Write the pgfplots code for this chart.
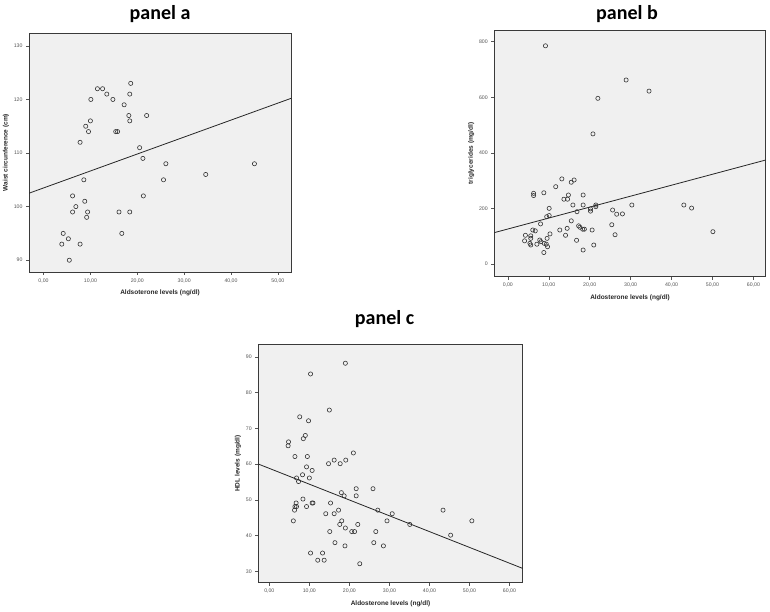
\documentclass[border=0pt]{standalone}
\usepackage{fontspec}
\setmainfont{Liberation Sans}
\newfontfamily\titlefont{Carlito}
\usepackage{pgfplots}
\pgfplotsset{compat=1.18}
\definecolor{panelbg}{HTML}{F0F0F0}
\definecolor{framec}{HTML}{3A3A3A}
\definecolor{tickc}{HTML}{555555}

\pgfplotsset{
  spss/.style={
    scale only axis,
    anchor=south west,
    axis background/.style={fill=panelbg},
    axis line style={draw=framec, line width=0.9pt},
    tick align=outside,
    xtick pos=left, ytick pos=left,
    major tick length=3pt,
    tick style={draw=tickc, line width=0.5pt},
    /pgf/number format/assume math mode=true,
    ticklabel style={font=\fontsize{5.2}{6}\selectfont, text=tickc},
    xticklabel style={/pgf/number format/.cd, fixed, fixed zerofill, precision=2, use comma},
    label style={font=\fontsize{6.5}{7.5}\selectfont\bfseries, text=black!85},
    ylabel shift=-2pt,
    title style={font=\fontsize{20}{24}\selectfont\titlefont\bfseries, at={(0.5,1)}, anchor=center},
  },
  pts/.style={only marks, mark=o, mark size=2.1pt, draw=black!80, line width=0.6pt},
  fit/.style={no marks, draw=black!85, line width=0.8pt, sharp plot},
}

\begin{document}
\begin{tikzpicture}
\path[use as bounding box] (0pt,0pt) rectangle (770pt,612pt);

% panel a
\begin{axis}[spss, at={(29pt,340pt)}, width=262pt, height=239pt,
  xmin=-3.1, xmax=52.8, ymin=87.8, ymax=132.4,
  xtick={0,10,...,50}, ytick={90,100,...,130},
  title={panel a}, title style={yshift=13pt},
  xlabel={Aldsoterone levels (ng/dl)},
  ylabel={Waist circunference (cm)}]
\addplot[pts] table {
3.9 93
4.2 95
5.3 94
5.5 90
6.2 102
6.2 99
6.9 100
7.8 93
7.8 112
8.6 105
8.8 101
9.0 115
9.2 98
9.4 99
9.6 114
10.0 116
10.1 120
11.5 122
12.6 122
13.5 121
14.8 120
15.4 114
15.8 114
16.1 99
16.7 95
17.2 119
18.2 117
18.4 116
18.4 121
18.6 123
18.4 99
20.5 111
21.2 109
21.3 102
22.0 117
25.6 105
26.1 108
34.6 106
45.0 108
};
\addplot[fit] coordinates {(-3.1,102.5) (52.8,120.2)};
\end{axis}

% panel b
\begin{axis}[spss, at={(494.3pt,335.3pt)}, width=271.4pt, height=246.7pt,
  xmin=-3.3, xmax=63, ymin=-46, ymax=842,
  xtick={0,10,...,60}, ytick={0,200,...,800},
  title={panel b}, title style={yshift=10pt, xshift=-3pt},
  xlabel={Aldosterone levels (ng/dl)},
  ylabel={triglycerides (mg/dl)}]
\addplot[pts] table {
4.1 83
4.3 103
5.4 74
5.6 68
5.6 101
5.6 92
6.1 122
6.3 254
6.3 246
6.7 119
7.1 71
7.8 86
8.0 144
8.1 80
8.8 256
8.8 41
8.9 74
9.2 785
9.4 71
9.5 170
9.6 92
9.7 62
10.1 174
10.1 200
10.3 108
11.7 278
12.7 122
13.2 306
13.7 233
14.1 103
14.5 128
14.6 233
14.8 248
15.5 155
15.5 294
15.9 212
16.2 302
16.8 85
16.9 188
17.3 137
17.6 132
18.3 125
18.7 125
18.4 248
18.4 212
18.4 50
20.2 198
20.2 190
20.6 122
20.8 468
21.0 68
21.5 212
21.5 206
22.0 596
25.4 141
25.6 194
26.2 105
26.6 179
28.0 180
28.9 662
30.3 212
34.5 622
43.0 212
44.9 201
50.1 116
};
\addplot[fit] coordinates {(-3.3,112.6) (63,374)};
\end{axis}

% panel c
\begin{axis}[spss, at={(258.3pt,29.3pt)}, width=264.4pt, height=238.4pt,
  xmin=-2.75, xmax=63.3, ymin=26.8, ymax=93.5,
  xtick={0,10,...,60}, ytick={30,40,...,90},
  title={panel c}, title style={yshift=19pt, xshift=-6pt},
  xlabel={Aldosterone levels (ng/dl)},
  ylabel={HDL levels (mg/dl)}]
\addplot[pts] table {
4.7 65.1
4.8 66.2
6.0 44.1
6.3 47.1
6.4 48.1
6.4 62.1
6.7 49.1
6.8 48.1
6.8 56.1
7.3 55.1
7.6 73.2
8.3 57.0
8.4 50.2
8.5 67.1
9.0 68.0
9.3 59.2
9.3 48.1
9.5 62.1
9.8 72.1
10.0 56.1
10.3 85.2
10.3 35.1
10.7 58.2
10.7 49.1
10.9 49.1
12.1 33.1
13.3 35.1
13.7 33.1
14.1 46.1
14.8 60.1
15.0 75.1
15.1 41.1
15.3 49.1
16.2 61.1
16.2 46.1
16.4 38.0
17.3 47.1
17.6 43.1
17.7 60.1
18.0 52.0
18.1 44.1
18.7 51.1
18.9 37.1
19.0 88.2
19.0 42.1
19.1 61.1
20.6 41.1
21.0 63.1
21.3 41.1
21.7 53.1
21.7 51.1
22.1 43.1
22.6 32.1
25.9 53.1
26.1 38.0
26.6 41.1
27.1 47.1
28.5 37.1
29.4 44.1
30.7 46.1
35.1 43.1
43.4 47.1
45.3 40.1
50.6 44.1
};
\addplot[fit] coordinates {(-2.75,60.0) (63.3,30.8)};
\end{axis}
\end{tikzpicture}
\end{document}
